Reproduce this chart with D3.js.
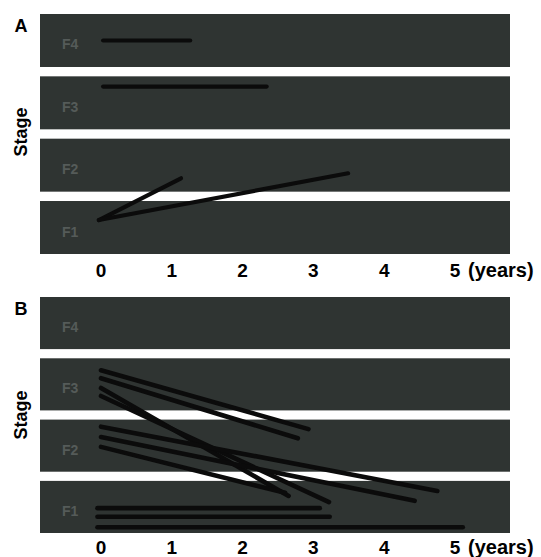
<!DOCTYPE html>
<html>
<head>
<meta charset="utf-8">
<script src="https://cdn.jsdelivr.net/npm/d3@7"></script>
<style>
body { margin: 0; background: #fff; }
text { font-family: "Liberation Sans", Arial, sans-serif; font-weight: bold; }
</style>
</head>
<body>
<svg id="svg1" width="541" height="557"></svg>
<script>
var stages = ['F4', 'F3', 'F2', 'F1'];
var yearTicks = [0, 1, 2, 3, 4, 5];

// each course: start year, start stage, end year, end stage
var linesA = [
    {t0: 0.03, s0: 4.00, t1: 1.26, s1: 4.00},
    {t0: 0.03, s0: 3.26, t1: 2.34, s1: 3.26},
    {t0: -0.03, s0: 1.12, t1: 1.13, s1: 1.79},
    {t0: -0.03, s0: 1.12, t1: 3.49, s1: 1.87}
];

var linesB = [
    {t0: 0.00, s0: 3.23, t1: 2.93, s1: 2.27},
    {t0: 0.00, s0: 3.10, t1: 2.78, s1: 2.12},
    {t0: 0.00, s0: 2.94, t1: 2.65, s1: 1.18},
    {t0: 0.00, s0: 2.81, t1: 3.22, s1: 1.08},
    {t0: 0.00, s0: 2.31, t1: 4.75, s1: 1.26},
    {t0: 0.00, s0: 2.14, t1: 4.43, s1: 1.10},
    {t0: 0.00, s0: 1.98, t1: 2.60, s1: 1.23},
    {t0: -0.05, s0: 0.98, t1: 3.09, s1: 0.98},
    {t0: -0.05, s0: 0.84, t1: 3.23, s1: 0.84},
    {t0: -0.05, s0: 0.67, t1: 5.11, s1: 0.67}
];

var svg = d3.select('#svg1');

var bandLeft = 40;
var bandRight = 510;

// years -> pixels, shared by both panels
var x = d3.scaleLinear()
    .domain([0, 5])
    .range([101, 455]);

var panels = [
    {name: 'A', top: 14, bottom: 254, lines: linesA, width: 4.2, tickGap: 16},
    {name: 'B', top: 297, bottom: 533, lines: linesB, width: 4.6, tickGap: 14}
];

panels.forEach(function(p) {
    var g = svg.append('g');

    var band = d3.scaleBand()
        .domain(stages)
        .range([p.top, p.bottom])
        .paddingInner(0.15);

    var mid = function(s) { return band(s) + band.bandwidth() / 2; };

    // continuous stage value -> pixels (stage 1 = centre of F1 band)
    var y = d3.scaleLinear()
        .domain([1, 4])
        .range([mid('F1'), mid('F4')]);

    g.selectAll('.band')
        .data(stages)
        .enter()
        .append('rect')
        .attr('class', 'band')
        .attr('x', bandLeft)
        .attr('y', function(d) { return band(d); })
        .attr('width', bandRight - bandLeft)
        .attr('height', band.bandwidth())
        .attr('fill', '#2f3432');

    g.selectAll('.bandLabel')
        .data(stages)
        .enter()
        .append('text')
        .attr('class', 'bandLabel')
        .attr('x', 62)
        .attr('y', function(d) { return mid(d) + 4; })
        .attr('dominant-baseline', 'central')
        .attr('font-size', 14)
        .attr('fill', '#555b59')
        .text(function(d) { return d; });

    g.selectAll('.course')
        .data(p.lines)
        .enter()
        .append('line')
        .attr('class', 'course')
        .attr('x1', function(d) { return x(d.t0); })
        .attr('y1', function(d) { return y(d.s0); })
        .attr('x2', function(d) { return x(d.t1); })
        .attr('y2', function(d) { return y(d.s1); })
        .attr('stroke', '#0b0b0b')
        .attr('stroke-width', p.width)
        .attr('stroke-linecap', 'round');

    g.selectAll('.tick')
        .data(yearTicks)
        .enter()
        .append('text')
        .attr('class', 'tick')
        .attr('x', function(d) { return x(d); })
        .attr('y', p.bottom + p.tickGap)
        .attr('text-anchor', 'middle')
        .attr('dominant-baseline', 'central')
        .attr('font-size', 19)
        .text(function(d) { return d; });

    g.append('text')
        .attr('x', x(5) + 13)
        .attr('y', p.bottom + p.tickGap)
        .attr('dominant-baseline', 'central')
        .attr('font-size', 20)
        .text('(years)');

    g.append('text')
        .attr('x', 21)
        .attr('y', p.top + 12)
        .attr('text-anchor', 'middle')
        .attr('dominant-baseline', 'central')
        .attr('font-size', 18)
        .text(p.name);

    g.append('text')
        .attr('transform', 'translate(21,' + (p.top + 118) + ') rotate(-90)')
        .attr('text-anchor', 'middle')
        .attr('dominant-baseline', 'central')
        .attr('font-size', 18)
        .text('Stage');
});
</script>
</body>
</html>
